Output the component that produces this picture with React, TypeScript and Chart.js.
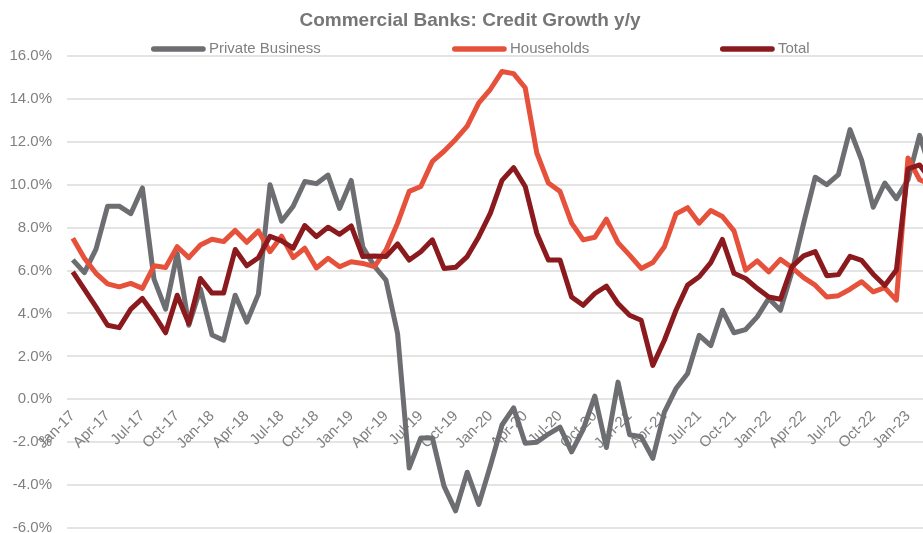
import React, { useEffect, useRef } from "react";
import { Chart, registerables } from "chart.js";

Chart.register(...registerables);

const MONTHS = ["Jan", "Feb", "Mar", "Apr", "May", "Jun", "Jul", "Aug", "Sep", "Oct", "Nov", "Dec"];
const YEARS = ["17", "18", "19", "20", "21", "22", "23"];
const MONTH_COUNT = 75; // Jan-17 .. Mar-23

const categories: string[] = [];
for (const y of YEARS) for (const m of MONTHS) categories.push(`${m}-${y}`);
categories.length = MONTH_COUNT;

const privateBusiness = [
  6.5, 5.9, 7.0, 9.0, 9.0, 8.65, 9.85, 5.6, 4.2, 6.8, 3.45, 5.15,
  3.0, 2.75, 4.85, 3.6, 4.9, 10.0, 8.3, 9.0, 10.15, 10.05, 10.45, 8.9,
  10.2, 7.1, 6.2, 5.55, 3.05, -3.2, -1.8, -1.8, -4.05, -5.2, -3.4, -4.9,
  -3.1, -1.2, -0.4, -2.05, -2.0, -1.62, -1.3, -2.45, -1.4, 0.15, -2.25, 0.8,
  -1.65, -1.75, -2.75, -0.6, 0.5, 1.2, 2.98, 2.5, 4.15, 3.1, 3.25, 3.84,
  4.7, 4.15, 5.95, 8.2, 10.35, 10.0, 10.47, 12.57, 11.15, 8.95, 10.08, 9.35,
  10.23, 12.3, 10.6,
];

const households = [
  7.5, 6.57, 5.87, 5.38, 5.24, 5.4, 5.17, 6.22, 6.14, 7.11, 6.6, 7.19,
  7.46, 7.35, 7.87, 7.32, 7.85, 6.88, 7.6, 6.6, 7.04, 6.12, 6.57, 6.18,
  6.41, 6.33, 6.18, 6.96, 8.21, 9.69, 9.92, 11.09, 11.56, 12.11, 12.73, 13.82,
  14.45, 15.28, 15.18, 14.52, 11.48, 10.08, 9.69, 8.21, 7.43, 7.55, 8.4, 7.3,
  6.72, 6.1, 6.37, 7.11, 8.64, 8.93, 8.21, 8.8, 8.52, 7.85, 6.02, 6.45,
  5.94, 6.52, 6.14, 5.67, 5.32, 4.77, 4.83, 5.13, 5.48, 5.01, 5.2, 4.62,
  11.25, 10.23, 10.0,
];

const total = [
  5.94, 5.12, 4.31, 3.45, 3.34, 4.2, 4.7, 3.95, 3.1, 4.85, 3.53, 5.63,
  4.95, 4.95, 6.98, 6.22, 6.6, 7.6, 7.38, 7.04, 8.1, 7.58, 8.02, 7.69,
  8.08, 6.65, 6.68, 6.65, 7.24, 6.49, 6.88, 7.43, 6.1, 6.15, 6.65, 7.58,
  8.68, 10.2, 10.8, 9.92, 7.74, 6.49, 6.49, 4.77, 4.38, 4.93, 5.27, 4.46,
  3.92, 3.68, 1.58, 2.75, 4.15, 5.32, 5.71, 6.37, 7.45, 5.87, 5.63, 5.17,
  4.77, 4.66, 6.18, 6.68, 6.88, 5.76, 5.81, 6.66, 6.47, 5.83, 5.3, 6.02,
  10.74, 10.92, 10.2,
];

const seriesNames = ["Private Business", "Households", "Total"];
const yTicks = { min: -6, max: 16, step: 2 };
const TITLE = "Commercial Banks: Credit Growth y/y";

const GRAY = "#6d6e71";
const ORANGE = "#e6513b";
const DARKRED = "#8b1a1e";
const TEXT = "#808080";
const TITLE_COLOR = "#767676";
const FONT = "'Liberation Sans', Arial, sans-serif";

const headerPlugin = {
  id: "header",
  afterDraw(chart: any) {
    const ctx = chart.ctx as CanvasRenderingContext2D;
    ctx.save();
    ctx.fillStyle = TITLE_COLOR;
    ctx.font = `bold 19px ${FONT}`;
    ctx.textAlign = "center";
    ctx.textBaseline = "middle";
    ctx.fillText(TITLE, 470, 21);

    const starts = [151, 452, 720];
    const colors = [GRAY, ORANGE, DARKRED];
    ctx.font = `15px ${FONT}`;
    ctx.textAlign = "left";
    seriesNames.forEach((name, i) => {
      const x = starts[i];
      ctx.strokeStyle = colors[i];
      ctx.lineWidth = 5.5;
      ctx.lineCap = "round";
      ctx.beginPath();
      ctx.moveTo(x + 2.75, 49);
      ctx.lineTo(x + 52, 49);
      ctx.stroke();
      ctx.fillStyle = TEXT;
      ctx.fillText(name, x + 58, 49);
    });
    ctx.restore();
  },
};

export default function App() {
  const ref = useRef<HTMLCanvasElement>(null);
  useEffect(() => {
    const chart = new Chart(ref.current!, {
      type: "line",
      data: {
        labels: categories,
        datasets: [
          { label: seriesNames[0], data: privateBusiness, borderColor: GRAY, backgroundColor: GRAY, order: 3 },
          { label: seriesNames[1], data: households, borderColor: ORANGE, backgroundColor: ORANGE, order: 2 },
          { label: seriesNames[2], data: total, borderColor: DARKRED, backgroundColor: DARKRED, order: 1 },
        ],
      },
      options: {
        animation: false,
        responsive: false,
        layout: { padding: { top: 56, right: 3, bottom: 6, left: 0 } },
        elements: {
          line: { borderWidth: 5, tension: 0, borderJoinStyle: "round" },
          point: { radius: 0, hoverRadius: 0 },
        },
        plugins: {
          legend: { display: false },
          title: { display: false },
          tooltip: { enabled: false },
        },
        scales: {
          x: {
            type: "category",
            offset: true,
            position: { y: 0 } as any,
            grid: { display: false },
            border: { display: false },
            ticks: {
              autoSkip: false,
              minRotation: 45,
              maxRotation: 45,
              padding: 0,
              color: TEXT,
              font: { family: FONT, size: 15 },
              callback: (_v: any, i: number) => (i % 3 === 0 ? categories[i] : null),
            },
          },
          y: {
            min: yTicks.min,
            max: yTicks.max,
            grid: { color: "#e4e4e4", lineWidth: 2, drawTicks: false },
            border: { display: false },
            ticks: {
              stepSize: yTicks.step,
              padding: 15,
              color: TEXT,
              font: { family: FONT, size: 15 },
              callback: (v: any) => `${Number(v).toFixed(1)}%`,
            },
            afterFit: (s: any) => {
              s.width = 67;
            },
          },
        },
      },
      plugins: [headerPlugin],
    });
    return () => chart.destroy();
  }, []);

  return (
    <div style={{ position: "fixed", left: 0, top: 0, width: 923, height: 533, overflow: "hidden", background: "#fff" }}>
      <canvas ref={ref} width={940} height={552} style={{ display: "block" }} />
    </div>
  );
}
